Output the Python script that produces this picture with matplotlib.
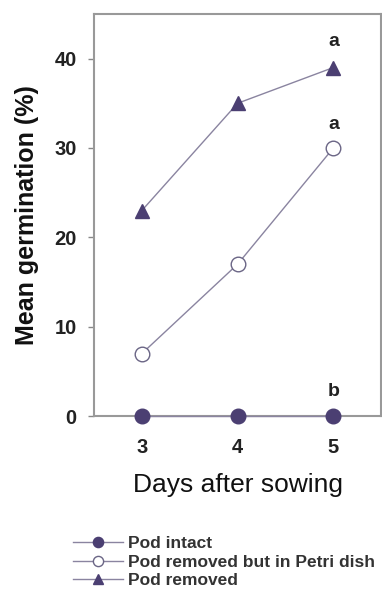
import numpy as np
import matplotlib
matplotlib.use('Agg')
import matplotlib.pyplot as plt

days = [3, 4, 5]
pod_intact = [0, 0, 0]
pod_petri = [7, 17, 30]
pod_removed = [23, 35, 39]
letters = ['a', 'a', 'b']
letter_y = [41, 31.7, 1.8]

plt.rcParams['font.family'] = ['Liberation Sans', 'DejaVu Sans']
purple = '#4b3f72'
linec = '#8a84a0'

fig = plt.figure(figsize=(3.82, 6.04), dpi=100)
ax = fig.add_axes([0.246, 0.311, 0.752, 0.666])

ax.plot(days, pod_intact, '-o', color=linec, lw=1, mfc=purple, mec=purple,
        ms=10.5, label='Pod intact', clip_on=False, zorder=5)
ax.plot(days, pod_petri, '-o', color=linec, lw=1, mfc='white', mec='#6a6585',
        ms=10.5, label='Pod removed but in Petri dish', clip_on=False, zorder=4)
ax.plot(days, pod_removed, '-^', color=linec, lw=1, mfc=purple, mec=purple,
        ms=10, label='Pod removed', clip_on=False, zorder=4)

for t, yy in zip(letters, letter_y):
    ax.text(5, yy, t, ha='center', va='bottom', fontsize=14, fontweight='bold',
            color='#222222')

ax.set_xlim(2.5, 5.5)
ax.set_ylim(0, 45)
ax.set_xticks(days)
ax.set_yticks([0, 10, 20, 30, 40])
ax.tick_params(axis='x', length=0, pad=16, labelsize=14.5)
ax.tick_params(axis='y', length=4.5, width=1, color='#888888', labelsize=14.5, pad=8)
for lab in ax.get_xticklabels() + ax.get_yticklabels():
    lab.set_fontweight('bold')
    lab.set_color('#222222')
for s in ax.spines.values():
    s.set_color('#999999')
    s.set_linewidth(1.5)

ax.set_xlabel('Days after sowing', fontsize=19, labelpad=11, color='#111111')
ax.set_ylabel('Mean germination (%)', fontsize=18, fontweight='bold', labelpad=11,
              color='#111111')

h, l = ax.get_legend_handles_labels()
leg = fig.legend(h, l, loc='lower left', bbox_to_anchor=(0.15, 0.0), frameon=False,
                 handlelength=2.9, labelspacing=0.2, handletextpad=0.3,
                 markerscale=0.7, prop={'weight': 'bold', 'size': 12.5})
for txt in leg.get_texts():
    txt.set_color('#333333')

fig.savefig('out.png', dpi=100)
